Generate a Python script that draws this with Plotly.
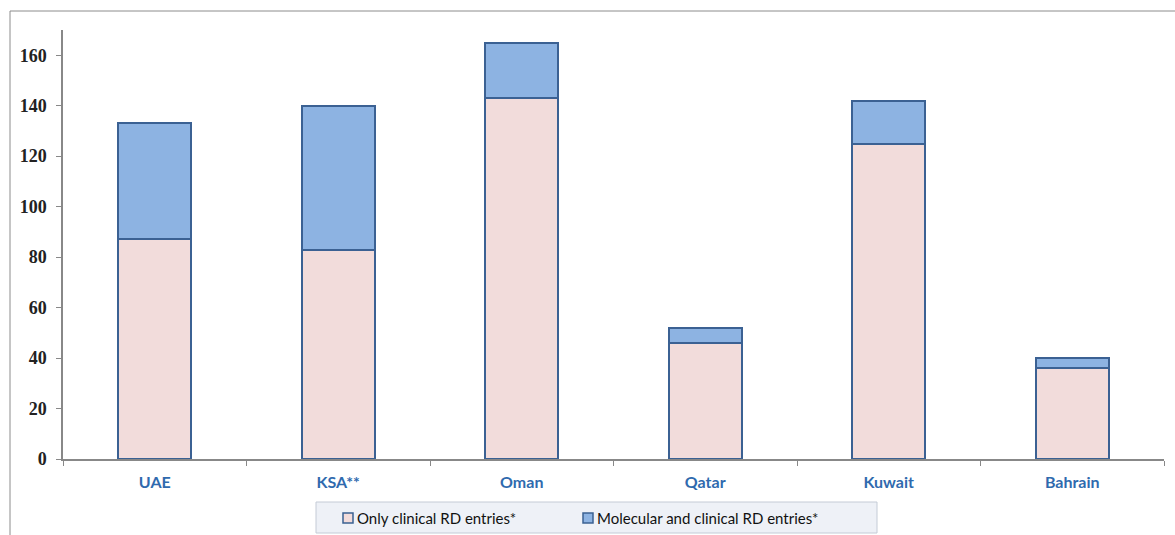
import plotly.graph_objects as go

# Registry entries per country
countries = ["UAE", "KSA**", "Oman", "Qatar", "Kuwait", "Bahrain"]
only_clinical = [87, 83, 143, 46, 125, 36]
molecular_and_clinical = [46, 57, 22, 6, 17, 4]
y_ticks = [0, 20, 40, 60, 80, 100, 120, 140, 160]

series_names = ["Only clinical RD entries*", "Molecular and clinical RD entries*"]
series_fill = ["#f2dcdb", "#8db3e2"]
edge = "#3b6193"

fig = go.Figure()
for vals, name, fill in zip([only_clinical, molecular_and_clinical], series_names, series_fill):
    fig.add_trace(go.Bar(
        x=countries, y=vals, name=name, showlegend=False,
        marker=dict(color=fill, line=dict(color=edge, width=2)),
    ))

# plot area in pixels: x 63..1164, y 30..459
def px(x):
    return (x - 63) / 1101

def py(y):
    return (459 - y) / 429

# outer chart frame
fig.add_shape(type="rect", xref="paper", yref="paper",
              x0=px(10), x1=px(1190), y0=py(560), y1=py(11),
              line=dict(color="#8c8c8c", width=1), fillcolor="rgba(0,0,0,0)", layer="below")
# legend panel
fig.add_shape(type="rect", xref="paper", yref="paper",
              x0=px(316), x1=px(877), y0=py(533), y1=py(502),
              line=dict(color="#c4cbd6", width=1), fillcolor="#eef1f7", layer="below")

# legend entries: swatch + label
legend_x = [343, 583]
for lx, name, fill in zip(legend_x, series_names, series_fill):
    fig.add_shape(type="rect", xref="paper", yref="paper",
                  x0=px(lx), x1=px(lx + 10), y0=py(523), y1=py(513),
                  line=dict(color=edge, width=1.5), fillcolor=fill)
    fig.add_annotation(xref="paper", yref="paper", x=px(lx + 12), y=py(518),
                       xanchor="left", yanchor="middle", showarrow=False, text=name,
                       font=dict(family="Lato", size=15, color="#111"))

fig.update_layout(
    width=1175, height=535,
    margin=dict(l=63, r=11, t=30, b=76),
    barmode="stack", bargap=0.6,
    plot_bgcolor="white", paper_bgcolor="white",
    showlegend=False,
    xaxis=dict(showline=True, linecolor="#888", linewidth=1.5,
               ticks="outside", tickson="boundaries", ticklen=5, tickcolor="#888",
               ticklabelstandoff=8,
               tickfont=dict(family="Lato", size=16, color="#2f6aae", weight="bold"),
               showgrid=False),
    yaxis=dict(range=[0, 170], tickvals=y_ticks, showline=True, linecolor="#888",
               linewidth=1.5, ticks="outside", ticklen=5, tickcolor="#888",
               ticklabelstandoff=6,
               tickfont=dict(family="Liberation Serif", size=18, color="#222", weight="bold"),
               showgrid=False, zeroline=False),
)

fig.write_html("out.html")
